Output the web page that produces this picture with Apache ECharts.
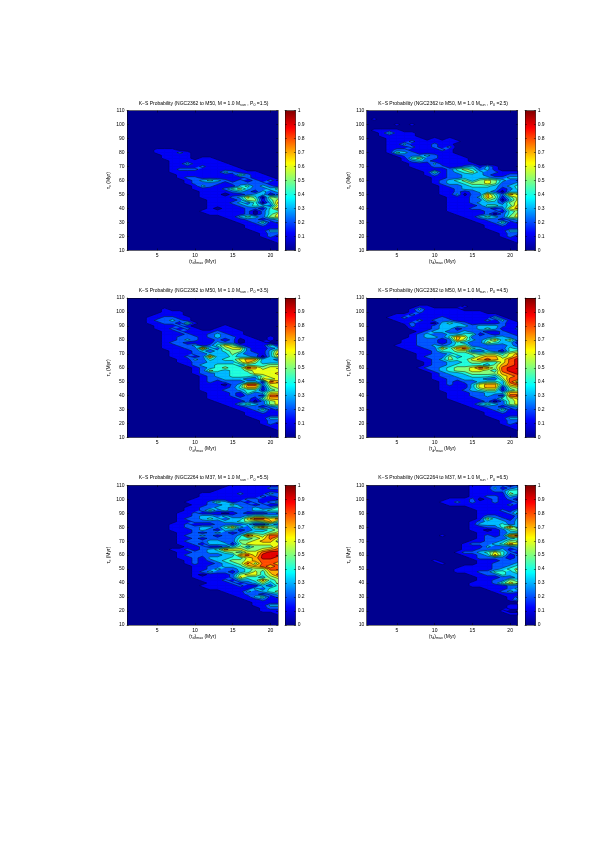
<!DOCTYPE html>
<html>
<head>
<meta charset="utf-8">
<style>
  html, body { margin: 0; padding: 0; background: #fff; }
  #chart { width: 599px; height: 847px; filter: blur(0.3px); }
</style>
<script src="https://cdn.jsdelivr.net/npm/echarts@6/dist/echarts.min.js"></script>
</head>
<body>
<div id="chart"></div>
<script>
// grid of the K-S probability maps
const xGrid = [1,2,3,4,5,6,7,8,9,10,11,12,13,14,15,16,17,18,19,20,21];
const yGrid = [110,108,106,104,102,100,98,96,94,92,90,88,86,84,82,80,78,76,74,72,70,68,66,64,62,60,58,56,54,52,50,48,46,44,42,40,38,36,34,32,30,28,26,24,22,20,18,16,14,12,10];
const xTicks = [5,10,15,20];
const clusters = ['NGC2362 to M50','NGC2362 to M50','NGC2362 to M50','NGC2362 to M50','NGC2264 to M37','NGC2264 to M37'];
const periods = ['1.5','2.5','3.5','4.5','5.5','6.5'];

// each row is one y of yGrid, top to bottom; each digit is the probability band (tenths) at one x of xGrid
const p15 = ['','','','','','','','','','','','','',
'000000000000000000000',
'000011100000000000000',
'000011121000000000000',
'000001111000000000000',
'000001111011000000000',
'000000111111100000000',
'000000113111110000000',
'000000111121111000000',
'000000122211111100000',
'000000111111132111000',
'000000011111111421100',
'000000012211111121110',
'000000001234321212121',
'000000001222212222211',
'000000000132111342321',
'000000000111124532234',
'000000000011112321323',
'000000000011101123312',
'000000000011112364054',
'000000000001111255146',
'000000000001112324037',
'000000000001111234326',
'000000000001011122147',
'000000000011111120244',
'000000000001111120246',
'000000000000011343256',
'000000000000001122123',
'000000000000000112412',
'000000000000000011211',
'000000000000000011111',
'000000000000000001133',
'000000000000000000122',
'000000000000000000121',
'000000000000000000011',
'000000000000000000001',
'','',''];
const p25 = ['','','',
'010000000000000000000',
'',
'000010100000000000000',
'',
'011110000000000000000',
'001311100000000000000',
'001111100000000000000',
'000111110101000000000',
'000111211111100000000',
'000113111211000000000',
'000111211212000000000',
'000122111121000000000',
'000143211111000000000',
'000012223211100000000',
'000001452211110000000',
'000001232111110000000',
'000000111311111000000',
'000000111221123131000',
'000000011112454231000',
'000000001412345322111',
'000000001212233321122',
'000000000112233332233',
'000000000123453565322',
'000000000123345565223',
'000000000012234443234',
'000000000011233333124',
'000000000011212332033',
'000000000011302274276',
'000000000001112375146',
'000000000001112254036',
'000000000001112333256',
'000000000001111244347',
'000000000001112221267',
'000000000001111122145',
'000000000000111120246',
'000000000000011343256',
'000000000000001122123',
'000000000000000112412',
'000000000000000011211',
'000000000000000011111',
'000000000000000001133',
'000000000000000000122',
'000000000000000000121',
'000000000000000000011',
'000000000000000000001',
'','',''];
const p35 = ['','','',
'',
'000001000000000000000',
'000001110000000000000',
'000011110000000000000',
'000112211000000000000',
'000122321000000000000',
'000112214100000000000',
'000011121000010000000',
'000011212100111000000',
'000001121111211100000',
'000001112112321100000',
'000001122212322110010',
'000001123211212011010',
'000001221111322011100',
'000001122312465211141',
'000001112273256621123',
'000000111232345521136',
'000000111223335322137',
'000000112127334332036',
'000000011324344677332',
'000000011223333575333',
'000000001233444344455',
'000000000123454487566',
'000000000125434456666',
'000000000122334446667',
'000000000012334443566',
'000000000012233322656',
'000000000012122233187',
'000000000011102388266',
'000000000011112477156',
'000000000011122344145',
'000000000001112142366',
'000000000001112122188',
'000000000001111221477',
'000000000000111120256',
'000000000000011343256',
'000000000000001122123',
'000000000000000112412',
'000000000000000011211',
'000000000000000011111',
'000000000000000001133',
'000000000000000000122',
'000000000000000000121',
'000000000000000000011',
'000000000000000000001',
'','',''];
const p45 = ['','','',
'000000011000010000000',
'000000131111100000000',
'000000121111111100000',
'000011211111111111000',
'000112111121111113100',
'000011121222111121310',
'000001211034321111211',
'000000211233332333211',
'000000111233122343112',
'000000012332232211211',
'000000123223344121221',
'000000123324762223322',
'000001122212753246352',
'000001122212432254331',
'000011122323452222232',
'000001112264784322243',
'000000111244552232145',
'000000011223445455467',
'000000012225344677568',
'000000011235446787689',
'000000001223345544689',
'000000001223444435789',
'000000012234556875899',
'000000001234556654899',
'000000000123345555789',
'000000000122334443678',
'000000000112233322588',
'000000000012122344386',
'000000000012113677378',
'000000000011113677156',
'000000000011123455145',
'000000000001112233377',
'000000000001112232188',
'000000000001111222457',
'000000000000111120256',
'000000000000011343256',
'000000000000001122123',
'000000000000000112412',
'000000000000000011211',
'000000000000000011111',
'000000000000000001133',
'000000000000000000122',
'000000000000000000121',
'000000000000000000011',
'000000000000000000001',
'','',''];
const p55 = [
'000000000000001111111',
'000000000000011111122',
'000000000000111111111',
'000000000011111211132',
'000000000011111111212',
'000000000111111122111',
'000000001112431212123',
'000000000112234221211',
'000000001122332323224',
'000000001124232223344',
'000000011211101211122',
'000000011233232234433',
'000000012234323368867',
'000000011222233454574',
'000000112111222231132',
'000000112233246325754',
'000000111232133123345',
'000000011212321234456',
'000000012232122386588',
'000000011212222445686',
'000000012223322556775',
'000000011213331466666',
'000000001121123535557',
'000000112123476655678',
'000000011223345466899',
'000000012222233786999',
'000000011213334467998',
'000000001212345567888',
'000000001211234585887',
'000000000112233467878',
'000000000112322345588',
'000000000123221346477',
'000000000101112566468',
'000000000111112644356',
'000000000011121334745',
'000000000001112123535',
'000000000011111211324',
'000000000001111113244',
'000000000000011132345',
'000000000000001122123',
'000000000000000113412',
'000000000000000011211',
'000000000000000001111',
'000000000000000001133',
'000000000000000000122',
'000000000000000000111',
'000000000000000000001',
'','','',''];
const p65 = [
'000000000000001112212',
'000000000000001113123',
'000000000000001112244',
'000000000000001111154',
'000000000000001122132',
'000000000001112012121',
'000000000011212112112',
'000000000001111111121',
'000000000000001111111',
'000000000000000111213',
'000000000000000111124',
'000000000000000122112',
'000000000000000153213',
'000000000000001233323',
'000000000000001333423',
'000000000000001122473',
'000000000000001101245',
'000000000000000111233',
'000000000010000121278',
'000000000000000122234',
'000000000000001122355',
'000000000000012223476',
'000000000000011132223',
'000000000000011222312',
'000000000000122346421',
'000000000000011237412',
'000000000000001222212',
'000000000100000111222',
'000000000010000112223',
'000000000000011112234',
'000000000000111112345',
'000000000000111224435',
'000000000000001122433',
'000000000000000111223',
'000000000000000112254',
'000000000000001112465',
'000000000000001111122',
'000000000000000011123',
'000000000000000001232',
'000000000000000000111',
'000000000000000000012',
'000000000000000000013',
'',
'000000000000000000011',
'000000000000000000011',
'000000000000000000100',
'000000000000000000011',
'','','',''];
const panels = [p15, p25, p35, p45, p55, p65];

// fill colour of each 0.1 band
const bandColors = ['#00008F','#0000F7','#0059FF','#00BDFF','#24FFDB','#87FF78','#ECFF13','#FFAE00','#FF4A00','#E30000'];
const jetStops = ['#00008F','#0000FF','#00FFFF','#FFFF00','#FF0000','#800000'];
const jetOffsets = [0,0.125,0.375,0.625,0.875,1];

const plotLeft = [127, 366.7];
const barLeft = [285, 525];
const plotTop = [110.7, 298, 485.3];
const plotW = 151, plotH = 139.6, barW = 10.7;
const fontFamily = '"Liberation Sans", Arial, sans-serif';
const fontSize = 5;

// a digit stands for the middle of its band, an empty spot sits just under the first contour
function bandValue(rows, r, c) {
  const d = Number((rows[r] || '')[c] || 0);
  return d ? d / 10 + 0.04 : 0.05;
}

function buildCells(rows) {
  const cells = [];
  for (let r = 0; r < yGrid.length - 1; r++) {
    for (let c = 0; c < xGrid.length - 1; c++) {
      const a = bandValue(rows, r, c), b = bandValue(rows, r, c + 1);
      const d = bandValue(rows, r + 1, c), e = bandValue(rows, r + 1, c + 1);
      if (Math.max(a, b, d, e) >= 0.1) cells.push([xGrid[c], yGrid[r], xGrid[c + 1], yGrid[r + 1], a, b, e, d]);
    }
  }
  return cells;
}

// keep the part of a cell at or above one level
function clipAbove(poly, level) {
  const out = [];
  poly.forEach((p, i) => {
    const q = poly[(i + 1) % poly.length];
    if (p[2] >= level) out.push(p);
    if ((p[2] >= level) !== (q[2] >= level)) {
      const t = (level - p[2]) / (q[2] - p[2]);
      out.push([p[0] + (q[0] - p[0]) * t, p[1] + (q[1] - p[1]) * t, level]);
    }
  });
  return out;
}

function crossings(poly, level) {
  const pts = [];
  poly.forEach((p, i) => {
    const q = poly[(i + 1) % poly.length];
    if ((p[2] >= level) !== (q[2] >= level)) {
      const t = (level - p[2]) / (q[2] - p[2]);
      pts.push([p[0] + (q[0] - p[0]) * t, p[1] + (q[1] - p[1]) * t]);
    }
  });
  return pts;
}

function renderCell(params, api) {
  const x0 = api.value(0), y0 = api.value(1), x1 = api.value(2), y1 = api.value(3);
  const poly = [[x0, y0, api.value(4)], [x1, y0, api.value(5)], [x1, y1, api.value(6)], [x0, y1, api.value(7)]];
  const children = [];
  for (let k = 1; k < bandColors.length; k++) {
    const level = k / 10;
    const part = clipAbove(poly, level);
    if (!part.length) break;
    children.push({
      type: 'polygon', z2: k,
      shape: { points: part.map(p => api.coord([p[0], p[1]])) },
      style: { fill: bandColors[k], stroke: bandColors[k], lineWidth: 0.4 }
    });
    const pts = crossings(poly, level);
    for (let i = 0; i + 1 < pts.length; i += 2) {
      children.push({
        type: 'polyline', z2: 20,
        shape: { points: [api.coord(pts[i]), api.coord(pts[i + 1])] },
        style: { fill: null, stroke: '#000', lineWidth: 0.45 }
      });
    }
  }
  return { type: 'group', children: children };
}

const richText = {
  a: { fontSize: fontSize, fontFamily: fontFamily, color: '#000', fontWeight: 'normal' },
  s: { fontSize: 3.6, fontFamily: fontFamily, color: '#000', fontWeight: 'normal', padding: [3, 0, 0, 0] }
};
const line = { color: '#000', width: 0.5 };

function frameAxis(gridIndex, position, extra) {
  return Object.assign({
    gridIndex: gridIndex, type: 'value', position: position, z: 10,
    axisLine: { show: true, onZero: false, lineStyle: line },
    axisTick: { show: true, inside: true, length: 1.8, lineStyle: line },
    axisLabel: { show: false },
    splitLine: { show: false }
  }, extra);
}

const grid = [], xAxis = [], yAxis = [], series = [], title = [];
panels.forEach((rows, n) => {
  const col = n % 2, row = Math.floor(n / 2);
  const top = plotTop[row], left = plotLeft[col];
  const g = grid.length;
  grid.push({ left: left, top: top, width: plotW, height: plotH, show: true, backgroundColor: bandColors[0], borderWidth: 0 });
  const xi = xAxis.length, yi = yAxis.length;
  const xLimits = { min: xGrid[0], max: xGrid[xGrid.length - 1] };
  const yLimits = { min: 10, max: 110, interval: 10 };
  xAxis.push(frameAxis(g, 'bottom', Object.assign({}, xLimits, {
    axisTick: { show: true, inside: true, length: 1.8, lineStyle: line, customValues: xTicks },
    axisLabel: { show: true, customValues: xTicks, fontSize: fontSize, fontFamily: fontFamily, color: '#000', margin: 3 },
    name: '{a|(τ}{s|d}{a|)}{s|max}{a| (Myr)}', nameLocation: 'middle', nameGap: 6.5,
    nameTextStyle: { rich: richText }
  })));
  xAxis.push(frameAxis(g, 'top', Object.assign({}, xLimits, {
    axisTick: { show: true, inside: true, length: 1.8, lineStyle: line, customValues: xTicks }
  })));
  yAxis.push(frameAxis(g, 'left', Object.assign({}, yLimits, {
    axisLabel: { show: true, fontSize: fontSize, fontFamily: fontFamily, color: '#000', margin: 2.5 },
    name: '{a|τ}{s|c}{a| (Myr)}', nameLocation: 'middle', nameGap: 8, nameRotate: 90,
    nameTextStyle: { rich: richText }
  })));
  yAxis.push(frameAxis(g, 'right', yLimits));
  series.push({
    type: 'custom', xAxisIndex: xi, yAxisIndex: yi, renderItem: renderCell,
    data: buildCells(rows), encode: { x: [0, 2], y: [1, 3] }, clip: true, silent: true, animation: false
  });
  title.push({
    left: left + plotW / 2 - 4, top: top - 15.8, textAlign: 'center',
    text: '{a|K−S Probability (' + clusters[n] + ', M = 1.0 M}{s|sun}{a| , P}{s|0}{a| =' + periods[n] + ')}',
    textStyle: { fontWeight: 'normal', rich: richText }
  });

  // colour bar
  const gb = grid.length;
  grid.push({ left: barLeft[col], top: top, width: barW, height: plotH, borderWidth: 0 });
  const bxi = xAxis.length, byi = yAxis.length;
  xAxis.push({ gridIndex: gb, type: 'category', data: ['p'], show: false });
  xAxis.push(frameAxis(gb, 'top', { min: 0, max: 1, axisTick: { show: false } }));
  xAxis.push(frameAxis(gb, 'bottom', { min: 0, max: 1, axisTick: { show: false } }));
  yAxis.push(frameAxis(gb, 'right', {
    min: 0, max: 1, interval: 0.1,
    axisLabel: { show: true, fontSize: fontSize, fontFamily: fontFamily, color: '#000', margin: 2 }
  }));
  yAxis.push(frameAxis(gb, 'left', { min: 0, max: 1, interval: 0.1 }));
  series.push({
    type: 'bar', xAxisIndex: bxi, yAxisIndex: byi, data: [1], barWidth: '100%', silent: true, animation: false,
    itemStyle: {
      color: new echarts.graphic.LinearGradient(0, 1, 0, 0, jetStops.map((c, i) => ({ offset: jetOffsets[i], color: c })))
    }
  });
});

const chart = echarts.init(document.getElementById('chart'));
chart.setOption({ backgroundColor: '#fff', animation: false, grid, xAxis, yAxis, series, title });
</script>
</body>
</html>
